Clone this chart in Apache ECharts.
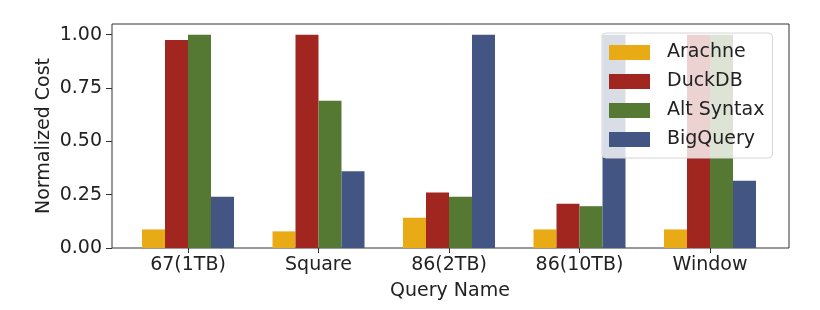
<!DOCTYPE html>
<html>
<head>
<meta charset="utf-8">
<script src="https://cdn.jsdelivr.net/npm/echarts@6/dist/echarts.min.js"></script>
<style>html,body{margin:0;padding:0;background:#fff;}#chart{width:820px;height:310px;}</style>
</head>
<body>
<div id="chart"></div>
<script>
const categories = ['67(1TB)', 'Square', '86(2TB)', '86(10TB)', 'Window'];
const seriesNames = ['Arachne', 'DuckDB', 'Alt Syntax', 'BigQuery'];
const arachne = [0.087, 0.078, 0.142, 0.087, 0.087];
const duckdb = [0.975, 1.0, 0.26, 0.207, 1.0];
const altSyntax = [1.0, 0.69, 0.24, 0.196, 1.0];
const bigQuery = [0.24, 0.36, 1.0, 1.0, 0.315];
const yTicks = [0, 0.25, 0.5, 0.75, 1.0];
const colors = ['#E8AB16', '#A12620', '#557833', '#435683'];

const values = [arachne, duckdb, altSyntax, bigQuery];
const font = 'DejaVu Sans';
const txt = '#222';

const chart = echarts.init(document.getElementById('chart'), null, {renderer: 'canvas'});
chart.setOption({
  animation: false,
  backgroundColor: '#fff',
  textStyle: {fontFamily: font},
  grid: [
    {left: 122.75, top: 24, width: 652.5, height: 224},
    {left: 112, top: 24, width: 677, height: 224, show: true, borderColor: '#333', borderWidth: 1, backgroundColor: 'transparent'}
  ],
  xAxis: [
    {gridIndex: 0, type: 'category', data: categories,
     axisLine: {show: false},
     axisTick: {show: true, alignWithLabel: true, length: 5, lineStyle: {color: '#333'}},
     axisLabel: {fontSize: 19, color: txt, margin: 8, fontFamily: font, interval: 0}},
    {gridIndex: 1, type: 'value', min: 0, max: 1, show: false}
  ],
  yAxis: [
    {gridIndex: 0, type: 'value', min: 0, max: 1.05, show: false},
    {gridIndex: 1, type: 'value', min: 0, max: 1.05, interval: 0.25,
     axisLine: {show: false},
     axisTick: {show: true, length: 6, lineStyle: {color: '#333'}},
     splitLine: {show: false},
     axisLabel: {fontSize: 19, color: txt, margin: 10, fontFamily: font, showMaxLabel: false,
       formatter: v => (yTicks.some(t => Math.abs(t - v) < 1e-9) ? v.toFixed(2) : '')}}
  ],
  legend: {
    orient: 'vertical', left: 602, top: 33,
    padding: [10, 8, 9, 7],
    itemWidth: 41, itemHeight: 15, itemGap: 10,
    icon: 'rect',
    selectedMode: false,
    backgroundColor: 'rgba(255,255,255,0.8)',
    borderColor: '#d6d6d6', borderWidth: 1, borderRadius: 4,
    textStyle: {fontSize: 19, color: txt, fontFamily: font, lineHeight: 19, padding: [0, 0, 0, 12]},
    data: seriesNames
  },
  graphic: [
    {type: 'text', x: 44, y: 136, rotation: Math.PI / 2,
     style: {text: 'Normalized Cost', fontSize: 19, fontFamily: font, fill: txt, align: 'center', verticalAlign: 'middle'}},
    {type: 'text', x: 450, y: 291,
     style: {text: 'Query Name', fontSize: 19, fontFamily: font, fill: txt, align: 'center', verticalAlign: 'middle'}}
  ],
  series: seriesNames.map((name, k) => ({
    name: name, type: 'bar', xAxisIndex: 0, yAxisIndex: 0,
    barWidth: 23, barGap: '0%',
    itemStyle: {color: colors[k]},
    data: values[k]
  }))
});
</script>
</body>
</html>
